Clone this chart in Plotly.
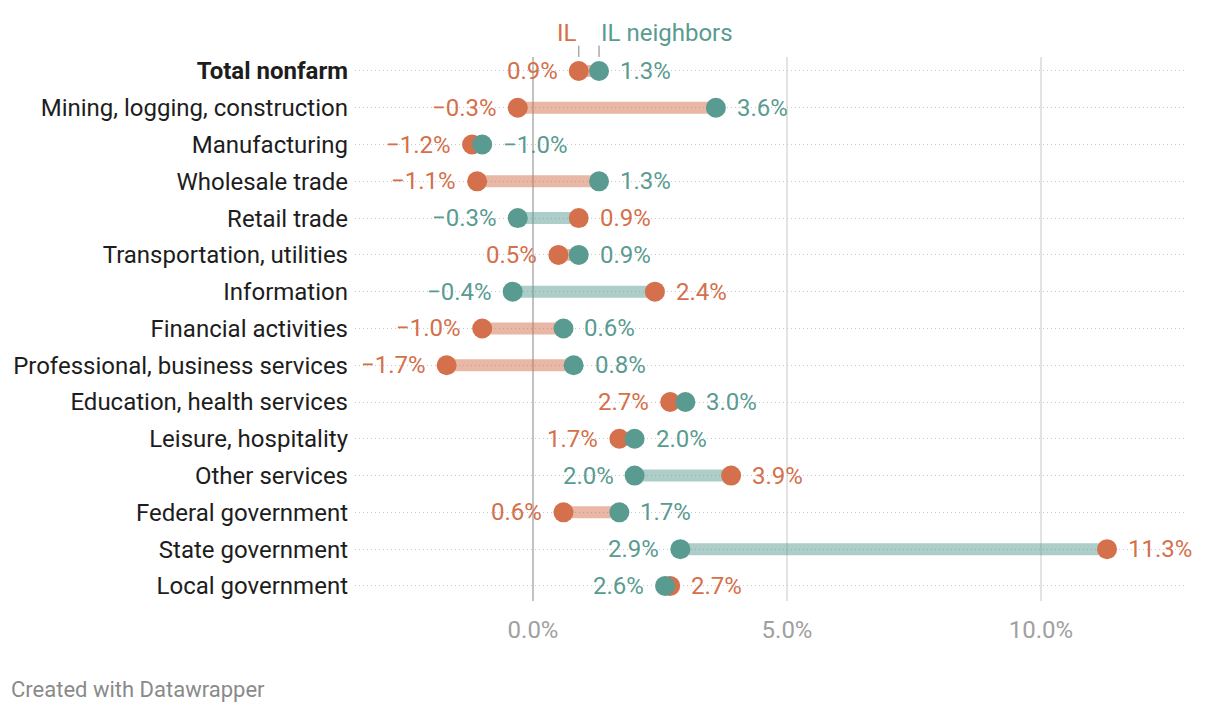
import plotly.graph_objects as go

categories = [
    "Total nonfarm", "Mining, logging, construction", "Manufacturing", "Wholesale trade",
    "Retail trade", "Transportation, utilities", "Information", "Financial activities",
    "Professional, business services", "Education, health services", "Leisure, hospitality",
    "Other services", "Federal government", "State government", "Local government",
]
il_values = [0.9, -0.3, -1.2, -1.1, 0.9, 0.5, 2.4, -1.0, -1.7, 2.7, 1.7, 3.9, 0.6, 11.3, 2.7]
neighbor_values = [1.3, 3.6, -1.0, 1.3, -0.3, 0.9, -0.4, 0.6, 0.8, 3.0, 2.0, 2.0, 1.7, 2.9, 2.6]
x_ticks = [0, 5, 10]
x_ticklabels = ["0.0%", "5.0%", "10.0%"]
series_names = ["IL", "IL neighbors"]

IL_COLOR = "#d4704b"
NB_COLOR = "#5a9b91"
IL_BAR = "rgba(212,112,75,0.5)"
NB_BAR = "rgba(90,155,145,0.5)"
FONT = "Roboto"
FS = 24

def fmt(v):
    s = f"{abs(v):.1f}%"
    return ("\u2212" + s) if v < 0 else s

fig = go.Figure()
ypos = list(range(len(categories)))

# bars
for i, (a, b) in enumerate(zip(il_values, neighbor_values)):
    color = IL_BAR if a <= b else NB_BAR
    fig.add_trace(go.Scatter(x=[a, b], y=[i, i], mode="lines",
                             line=dict(color=color, width=12), hoverinfo="skip",
                             showlegend=False))

fig.add_trace(go.Scatter(x=il_values, y=ypos, mode="markers", name=series_names[0],
                         marker=dict(color=IL_COLOR, size=20), showlegend=False))
fig.add_trace(go.Scatter(x=neighbor_values, y=ypos, mode="markers", name=series_names[1],
                         marker=dict(color=NB_COLOR, size=20), showlegend=False))

annotations = []
for i, (a, b) in enumerate(zip(il_values, neighbor_values)):
    if a <= b:
        left, lc, right, rc = a, IL_COLOR, b, NB_COLOR
    else:
        left, lc, right, rc = b, NB_COLOR, a, IL_COLOR
    annotations.append(dict(x=left, y=i, text=fmt(left), xanchor="right", xshift=-19,
                            showarrow=False, font=dict(color=lc, size=FS, family=FONT)))
    annotations.append(dict(x=right, y=i, text=fmt(right), xanchor="left", xshift=19,
                            showarrow=False, font=dict(color=rc, size=FS, family=FONT)))

# header labels
annotations.append(dict(x=il_values[0], y=1.0, yref="paper", yshift=24, yanchor="middle",
                        text=series_names[0], xanchor="right", xshift=0, showarrow=False,
                        font=dict(color=IL_COLOR, size=FS, family=FONT)))
annotations.append(dict(x=neighbor_values[0], y=1.0, yref="paper", yshift=24, yanchor="middle",
                        text=series_names[1], xanchor="left", xshift=0, showarrow=False,
                        font=dict(color=NB_COLOR, size=FS, family=FONT)))
annotations.append(dict(x=0, y=-0.1636, xref="paper", yref="paper", xanchor="left",
                        yanchor="middle", text="Created with Datawrapper", showarrow=False,
                        font=dict(color="#8a8a8a", size=22, family=FONT), xshift=-346))

shapes = []
for v in (il_values[0], neighbor_values[0]):
    shapes.append(dict(type="line", x0=v, x1=v, xref="x", yref="paper", y0=1.0, y1=1.021,
                       line=dict(color="#aaaaaa", width=1.5)))

fig.update_layout(
    width=1212, height=706,
    margin=dict(l=347, r=33, t=49, b=113),
    paper_bgcolor="white", plot_bgcolor="white",
    font=dict(family=FONT, size=FS, color="#222222"),
    annotations=annotations, shapes=shapes,
    xaxis=dict(range=[-3.504, 12.874], tickvals=x_ticks, ticktext=x_ticklabels,
               showgrid=True, gridcolor="#e3e3e3", gridwidth=2,
               zeroline=True, zerolinecolor="#c2c2c2", zerolinewidth=2,
               tickfont=dict(color="#a0a0a0", size=FS, family=FONT),
               ticks="", ticklabelstandoff=12, showline=False, fixedrange=True,
               automargin=False),
    yaxis=dict(range=[14.41, -0.38], tickvals=ypos,
               ticktext=["<b>" + categories[0] + "</b>"] + categories[1:],
               showgrid=True, gridcolor="#c8c8c8", griddash="1px,3px", gridwidth=1,
               zeroline=False, ticks="", ticklabelstandoff=6,
               tickfont=dict(color="#1d1d1d", size=FS, family=FONT), fixedrange=True,
               automargin=False),
)

fig.write_html("out.html")
